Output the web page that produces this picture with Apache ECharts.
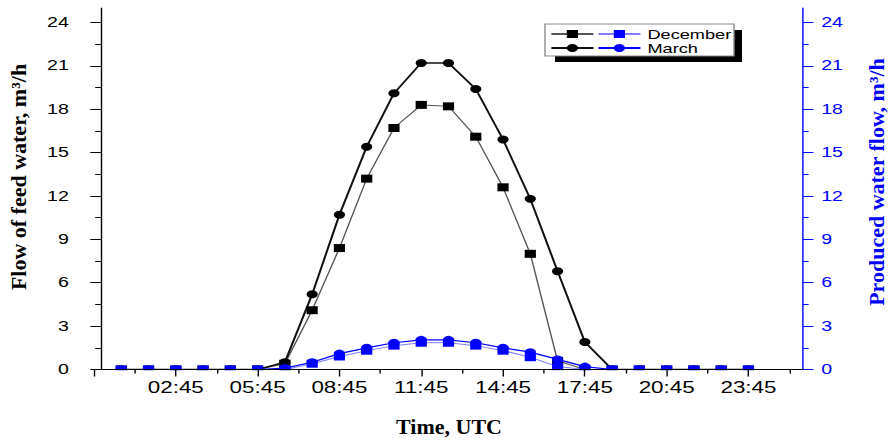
<!DOCTYPE html>
<html>
<head>
<meta charset="utf-8">
<script src="https://cdn.jsdelivr.net/npm/echarts@6/dist/echarts.min.js"></script>
<style>
  html, body { margin: 0; padding: 0; background: #fff; }
  #wrap { width: 891px; height: 442px; overflow: hidden; position: relative; background: #fff; }
  #chart { width: 636.43px; height: 442px; transform: scaleX(1.4); transform-origin: 0 0; }
</style>
</head>
<body>
<div id="wrap"><div id="chart"></div></div>
<script>
// ---- data ----
const times = ['00:45','01:45','02:45','03:45','04:45','05:45','06:45','07:45','08:45','09:45','10:45','11:45',
               '12:45','13:45','14:45','15:45','16:45','17:45','18:45','19:45','20:45','21:45','22:45','23:45'];
const decemberFeed     = [0,0,0,0,0,0,0.4,4.1,8.4,13.2,16.7,18.3,18.2,16.1,12.6,8.0,0.6,0,0,0,0,0,0,0];
const marchFeed        = [0,0,0,0,0,0,0.5,5.2,10.7,15.4,19.1,21.2,21.2,19.4,15.9,11.8,6.8,1.9,0,0,0,0,0,0];
const decemberProduced = [0,0,0,0,0,0,0,0.4,0.9,1.3,1.65,1.85,1.85,1.65,1.3,0.85,0.2,0,0,0,0,0,0,0];
const marchProduced    = [0,0,0,0,0,0,0.1,0.5,1.1,1.5,1.85,2.05,2.05,1.85,1.5,1.2,0.7,0.2,0,0,0,0,0,0];
const xLabelTimes = ['02:45','05:45','08:45','11:45','14:45','17:45','20:45','23:45'];
const xMajorTickTimes = ['-00:15','02:45','05:45','08:45','11:45','14:45','17:45','20:45','23:45'];
const xMinorTickTimes = ['01:15','04:15','07:15','10:15','13:15','16:15','19:15','22:15','25:15'];
const yTickLabels = [0,3,6,9,12,15,18,21,24];
const yMinorTicks = [1.5,4.5,7.5,10.5,13.5,16.5,19.5,22.5];
const xRange = ['-00:15','25:45'];
const yRange = [0,25];

// ---- helpers ----
function toH(s) {
  const neg = s[0] === '-';
  const t = neg ? s.slice(1) : s;
  const p = t.split(':');
  const v = (+p[0]) + (+p[1]) / 60;
  return neg ? -v : v;
}
function fmt(v) {
  const h = Math.floor(v + 1e-9);
  const m = Math.round((v - h) * 60);
  return String(h).padStart(2, '0') + ':' + String(m).padStart(2, '0');
}
function pairs(vals) { return times.map((t, i) => [toH(t), vals[i]]); }

const SX = 1.4;
const BLUE = '#0000ff';
const LBL = '"Liberation Sans", Arial, sans-serif';
const SERIF = '"Liberation Serif", "Times New Roman", serif';

const chart = echarts.init(document.getElementById('chart'), null, { renderer: 'svg' });

const gridLeft = 94 / SX, gridRight = 803 / SX;

function yAxisMain(pos, color, margin) {
  return {
    type: 'value', position: pos, min: yRange[0], max: yRange[1], z: 10,
    axisLine: { show: true, lineStyle: { color: color, width: 1 } },
    axisTick: { show: true, inside: false, length: 7.5, customValues: yTickLabels, lineStyle: { color: color, width: 1 } },
    axisLabel: { show: true, customValues: yTickLabels, margin: margin, fontSize: 14, fontFamily: LBL, color: color },
    splitLine: { show: false }
  };
}
function yAxisMinor(pos, color) {
  return {
    type: 'value', position: pos, min: yRange[0], max: yRange[1], z: 10,
    axisLine: { show: false },
    axisTick: { show: true, inside: false, length: 4, customValues: yMinorTicks, lineStyle: { color: color, width: 1 } },
    axisLabel: { show: false },
    splitLine: { show: false }
  };
}

const option = {
  backgroundColor: '#fff',
  animation: false,
  grid: { left: gridLeft, width: gridRight - gridLeft, top: 8, bottom: 72.5, containLabel: false },
  xAxis: [
    {
      type: 'value', position: 'bottom', min: toH(xRange[0]), max: toH(xRange[1]), z: 10,
      axisLine: { show: true, lineStyle: { color: '#000', width: 1 } },
      axisTick: { show: true, inside: false, length: 7, customValues: xMajorTickTimes.map(toH), lineStyle: { color: '#000', width: 1 } },
      axisLabel: { show: true, customValues: xLabelTimes.map(toH), formatter: v => fmt(v), margin: 10, fontSize: 16, fontFamily: LBL, color: '#000' },
      splitLine: { show: false }
    },
    {
      type: 'value', position: 'bottom', min: toH(xRange[0]), max: toH(xRange[1]), z: 10,
      axisLine: { show: false },
      axisTick: { show: true, inside: false, length: 4, customValues: xMinorTickTimes.map(toH), lineStyle: { color: '#000', width: 1 } },
      axisLabel: { show: false },
      splitLine: { show: false }
    }
  ],
  yAxis: [
    yAxisMain('left', '#000', 18),
    yAxisMinor('left', '#000'),
    yAxisMain('right', BLUE, 13),
    yAxisMinor('right', BLUE)
  ],
  legend: [
    {
      data: ['December feed', 'March feed'], orient: 'vertical', left: 550 / SX, top: 27, padding: 0,
      itemWidth: 30, itemHeight: 10, itemGap: 0, selectedMode: false, z: 8,
      formatter: () => ' ',
      textStyle: { fontSize: 13, lineHeight: 14, fontFamily: LBL, color: '#000' }
    },
    {
      data: ['December', 'March'], orient: 'vertical', left: 597 / SX, top: 27, padding: 0,
      itemWidth: 30, itemHeight: 10, itemGap: 0, selectedMode: false, z: 8,
      textStyle: { fontSize: 13, lineHeight: 14, fontFamily: LBL, color: '#000' }
    }
  ],
  graphic: [
    { type: 'rect', z: 6, shape: { x: 555 / SX, y: 30, width: (742 - 555) / SX, height: 32 }, style: { fill: '#000' } },
    { type: 'rect', z: 7, shape: { x: 545 / SX, y: 24, width: (734 - 545) / SX, height: 32 }, style: { fill: '#fff', stroke: '#8c8c8c', lineWidth: 1 } },
    { type: 'rect', z: 6, shape: { x: gridLeft + 1, y: 370.2, width: gridRight - gridLeft - 2, height: 7 }, style: { fill: '#fff' } },
    { type: 'text', z: 10, x: 19 / SX, y: 177, rotation: Math.PI / 2, scaleY: 1 / SX,
      style: { text: 'Flow of feed water, m³/h', fontSize: 22, fontWeight: 'bold', fontFamily: SERIF, fill: '#000', textAlign: 'center', textVerticalAlign: 'middle' } },
    { type: 'text', z: 10, x: 876.5 / SX, y: 182, rotation: Math.PI / 2, scaleY: 1 / SX,
      style: { text: 'Produced water flow, m³/h', fontSize: 22, fontWeight: 'bold', fontFamily: SERIF, fill: BLUE, textAlign: 'center', textVerticalAlign: 'middle' } },
    { type: 'text', z: 10, x: 449 / SX, y: 426, scaleX: 1 / SX,
      style: { text: 'Time, UTC', fontSize: 22, fontWeight: 'bold', fontFamily: SERIF, fill: '#000', textAlign: 'center', textVerticalAlign: 'middle' } }
  ],
  series: [
    {
      name: 'December feed', type: 'line', xAxisIndex: 0, yAxisIndex: 0, z: 3,
      data: pairs(decemberFeed), symbol: 'rect', symbolSize: 8, showSymbol: true,
      itemStyle: { color: '#000' }, lineStyle: { color: '#555', width: 1 }
    },
    {
      name: 'March feed', type: 'line', xAxisIndex: 0, yAxisIndex: 0, z: 3,
      data: pairs(marchFeed), symbol: 'circle', symbolSize: 8, showSymbol: true,
      itemStyle: { color: '#000' }, lineStyle: { color: '#111', width: 1.5 }
    },
    {
      name: 'December', type: 'line', xAxisIndex: 0, yAxisIndex: 2, z: 4,
      data: pairs(decemberProduced), symbol: 'rect', symbolSize: 8, showSymbol: true,
      itemStyle: { color: BLUE }, lineStyle: { color: '#8080ff', width: 1 }
    },
    {
      name: 'March', type: 'line', xAxisIndex: 0, yAxisIndex: 2, z: 4,
      data: pairs(marchProduced), symbol: 'circle', symbolSize: 8, showSymbol: true,
      itemStyle: { color: BLUE }, lineStyle: { color: BLUE, width: 1.2 }
    }
  ]
};
chart.setOption(option);
</script>
</body>
</html>
